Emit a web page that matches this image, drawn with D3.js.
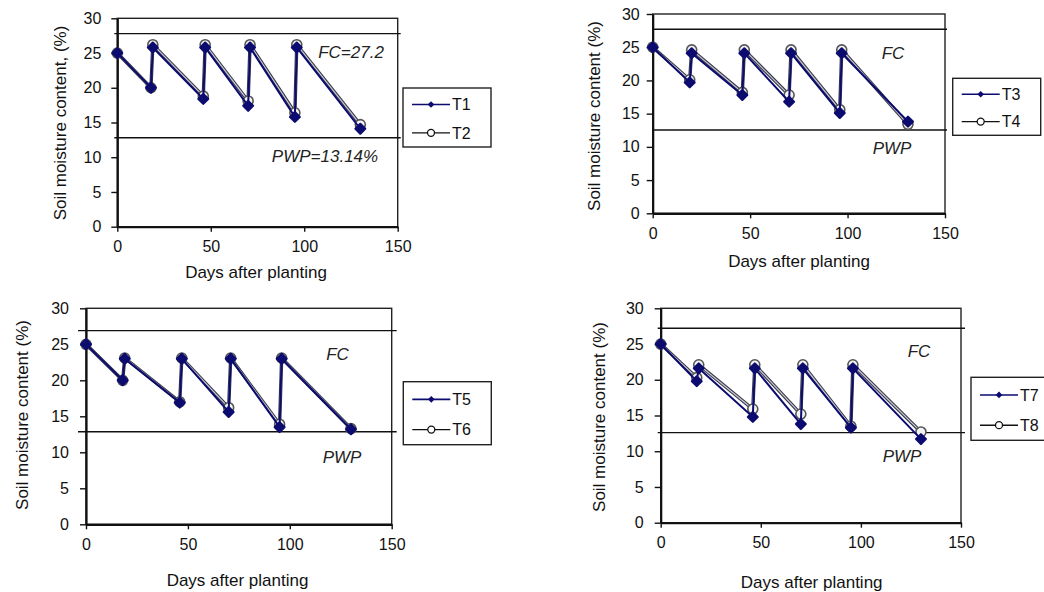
<!DOCTYPE html>
<html>
<head>
<meta charset="utf-8">
<script src="https://cdn.jsdelivr.net/npm/d3@7"></script>
<style>
  body { margin: 0; background: #fff; }
  svg { display: block; font-family: "Liberation Sans", Arial, sans-serif; }
  .tick text { font-size: 16px; fill: #111; }
  .axis-title { font-size: 17px; fill: #111; }
  .note { font-size: 17px; font-style: italic; fill: #222; }
  .legend text { font-size: 16px; fill: #111; }
</style>
</head>
<body>
<svg id="chart" width="1044" height="592"></svg>
<script>
// days after planting (each panel)
var daysA = [0, 18, 19, 46, 47, 70, 71, 95, 96, 130];
var daysB = [0, 19, 20, 46, 47, 70, 71, 96, 97, 131];

// soil moisture content, %
var t1 = [25, 20, 25.8, 18.4, 25.8, 17.4, 25.8, 15.8, 25.8, 14.1];
var t2 = [25, 20, 26.2, 18.8, 26.2, 18.1, 26.2, 16.4, 26.2, 14.7];
var t3 = [25, 19.7, 24.1, 17.8, 24.1, 16.8, 24.1, 15.1, 24.1, 13.8];
var t4 = [25, 20.1, 24.6, 18.2, 24.6, 17.8, 24.6, 15.6, 24.6, 13.4];
var t5 = [25, 20, 23, 16.9, 23, 15.6, 23, 13.5, 23, 13.2];
var t6 = [25, 20, 23.1, 17, 23.1, 16.2, 23.1, 13.9, 23.1, 13.3];
var t7 = [25, 19.8, 21.6, 14.8, 21.6, 13.8, 21.6, 13.3, 21.6, 11.7];
var t8 = [25, 20.3, 22.1, 15.9, 22.1, 15.2, 22.1, 13.5, 22.1, 12.7];

// field capacity / wilting point lines as drawn in each panel
var fcLines = [27.8, 27.7, 26.9, 27.2];
var pwpLines = [12.8, 12.55, 12.85, 12.6];
var fcLabels = ["FC=27.2", "FC", "FC", "FC"];
var pwpLabels = ["PWP=13.14%", "PWP", "PWP", "PWP"];
var yTitles = ["Soil moisture content, (%)", "Soil moisture content (%)",
               "Soil moisture content (%)", "Soil moisture content (%)"];
var xTicks = [0, 50, 100, 150];
var yTicks = [0, 5, 10, 15, 20, 25, 30];

var svg = d3.select("#chart");

var panels = [
  {left: 117.3, right: 397.7, top: 18.3, bottom: 226.7, yPad: 10, extL: 3, extR: 3,
   yTitle: [60, 123], xTitle: [256, 278], fc: [351, 58], pwp: [325, 162],
   legend: [403, 88, 88, 59], days: daysA, a: t1, b: t2, names: ["T1", "T2"]},
  {left: 652.7, right: 945, top: 14, bottom: 213.3, yPad: 7, extL: 0, extR: 2,
   yTitle: [594, 116], xTitle: [799, 267], fc: [893, 59], pwp: [892, 154],
   legend: [952.7, 78.3, 88, 57], days: daysB, a: t3, b: t4, names: ["T3", "T4"]},
  {left: 86, right: 391.7, top: 308.3, bottom: 524.3, yPad: 11, extL: 8, extR: 5,
   yTitle: [22.5, 415], xTitle: [237.5, 586], fc: [337.5, 360], pwp: [342, 463],
   legend: [403.3, 381.7, 88, 63], days: daysA, a: t5, b: t6, names: ["T5", "T6"]},
  {left: 660.7, right: 961, top: 308.3, bottom: 522.7, yPad: 11, extL: 3, extR: 4,
   yTitle: [599, 417], xTitle: [811.7, 588], fc: [919, 357], pwp: [902, 462],
   legend: [971, 377.3, 88, 63], days: daysA, a: t7, b: t8, names: ["T7", "T8"]}
];

var navy = "#0b0b70";
var diamond = d3.symbol().type(d3.symbolSquare);

panels.forEach(function(p, i) {
  var x = d3.scaleLinear().domain([0, 150]).range([p.left, p.right]);
  var y = d3.scaleLinear().domain([0, 30]).range([p.bottom, p.top]);
  var g = svg.append("g");

  // plot frame
  g.append("rect")
    .attr("x", p.left).attr("y", p.top)
    .attr("width", p.right - p.left).attr("height", p.bottom - p.top)
    .attr("fill", "none").attr("stroke", "#222").attr("stroke-width", 1.4);

  var ya = g.append("g")
    .attr("transform", "translate(" + p.left + ",0)")
    .call(d3.axisLeft(y).tickValues(yTicks).tickSize(6).tickSizeOuter(0).tickPadding(p.yPad));
  var xa = g.append("g")
    .attr("transform", "translate(0," + p.bottom + ")")
    .call(d3.axisBottom(x).tickValues(xTicks).tickSize(5).tickSizeOuter(0).tickPadding(9));
  [ya, xa].forEach(function(a) {
    a.select(".domain").attr("stroke", "#111").attr("stroke-width", 2.2);
    a.selectAll(".tick line").attr("stroke", "#111").attr("stroke-width", 1.4);
    a.selectAll(".tick text").attr("font-family", null).attr("font-size", null);
  });

  // FC and PWP reference lines
  [fcLines[i], pwpLines[i]].forEach(function(v) {
    g.append("line")
      .attr("x1", x(0) - p.extL).attr("x2", x(150) + p.extR)
      .attr("y1", y(v)).attr("y2", y(v))
      .attr("stroke", "#111").attr("stroke-width", 1.4);
  });
  g.append("text").attr("class", "note").attr("text-anchor", "middle")
    .attr("x", p.fc[0]).attr("y", p.fc[1]).text(fcLabels[i]);
  g.append("text").attr("class", "note").attr("text-anchor", "middle")
    .attr("x", p.pwp[0]).attr("y", p.pwp[1]).text(pwpLabels[i]);

  // axis titles
  g.append("text").attr("class", "axis-title").attr("text-anchor", "middle")
    .attr("transform", "translate(" + p.yTitle[0] + "," + p.yTitle[1] + ") rotate(-90)")
    .attr("dy", "0.35em").text(yTitles[i]);
  g.append("text").attr("class", "axis-title").attr("text-anchor", "middle")
    .attr("x", p.xTitle[0]).attr("y", p.xTitle[1]).text("Days after planting");

  var line = d3.line()
    .x(function(d, k) { return x(p.days[k]); })
    .y(function(d) { return y(d); });

  // open-circle series (drawn first, sits underneath)
  g.append("path").attr("d", line(p.b))
    .attr("fill", "none").attr("stroke", "#3c3c4a").attr("stroke-width", 3.4);
  g.append("path").attr("d", line(p.b))
    .attr("fill", "none").attr("stroke", "#c8c8d8").attr("stroke-width", 1.2);
  g.selectAll("circle.b").data(p.b).enter().append("circle")
    .attr("class", "b")
    .attr("cx", function(d, k) { return x(p.days[k]); })
    .attr("cy", function(d) { return y(d); })
    .attr("r", 5)
    .attr("fill", "#f4f4f4").attr("stroke", "#555").attr("stroke-width", 1.6);

  // filled-diamond series
  g.append("path").attr("d", line(p.a))
    .attr("fill", "none").attr("stroke", navy).attr("stroke-width", 2);
  g.selectAll("path.a").data(p.a).enter().append("path")
    .attr("class", "a")
    .attr("d", diamond.size(48))
    .attr("transform", function(d, k) {
      return "translate(" + x(p.days[k]) + "," + y(d) + ") rotate(45)";
    })
    .attr("fill", navy).attr("stroke", navy).attr("stroke-width", 2.2)
    .attr("stroke-linejoin", "round");

  // legend
  var L = p.legend;
  var lg = g.append("g").attr("class", "legend");
  lg.append("rect").attr("x", L[0]).attr("y", L[1]).attr("width", L[2]).attr("height", L[3])
    .attr("fill", "#fff").attr("stroke", "#222").attr("stroke-width", 1.4);
  var rowY = [L[1] + L[3] * 0.28, L[1] + L[3] * 0.76];
  var lx1 = L[0] + 9, lx2 = L[0] + 47, mx = (lx1 + lx2) / 2;
  lg.append("line").attr("x1", lx1).attr("x2", lx2).attr("y1", rowY[0]).attr("y2", rowY[0])
    .attr("stroke", navy).attr("stroke-width", 1.6);
  lg.append("path").attr("d", diamond.size(22))
    .attr("transform", "translate(" + mx + "," + rowY[0] + ") rotate(45)").attr("fill", navy);
  lg.append("line").attr("x1", lx1).attr("x2", lx2).attr("y1", rowY[1]).attr("y2", rowY[1])
    .attr("stroke", "#111").attr("stroke-width", 1.4);
  lg.append("circle").attr("cx", mx).attr("cy", rowY[1]).attr("r", 3.5)
    .attr("fill", "#fff").attr("stroke", "#111").attr("stroke-width", 1.3);
  p.names.forEach(function(n, k) {
    lg.append("text").attr("x", lx2 + 2).attr("y", rowY[k]).attr("dy", "0.36em").text(n);
  });
});
</script>
</body>
</html>
